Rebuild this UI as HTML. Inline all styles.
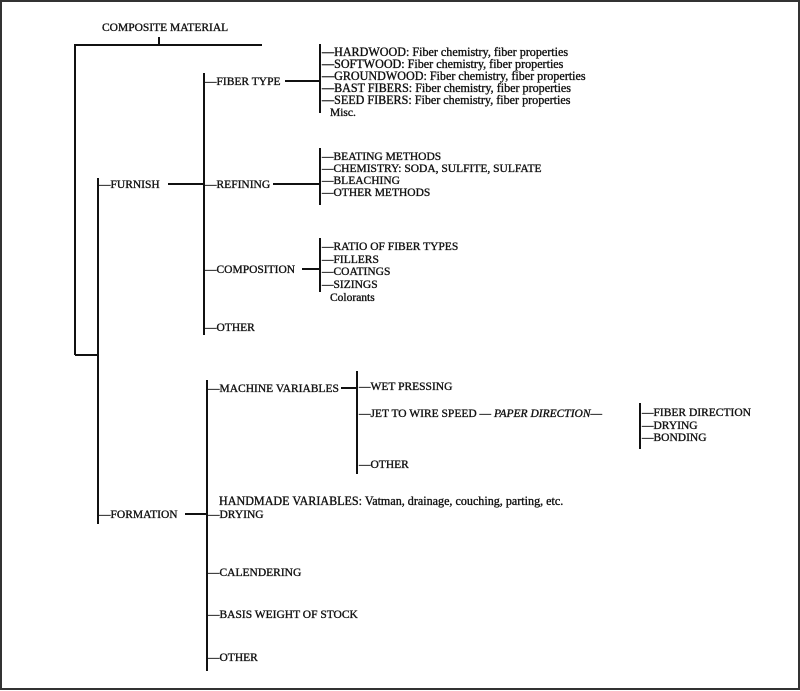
<!DOCTYPE html>
<html><head><meta charset="utf-8"><style>
html,body{margin:0;padding:0;background:#fff}
svg{display:block}
text{font-family:"Liberation Serif",serif;font-size:11.5px;fill:#111;stroke:#111;stroke-width:0.35px}
.w{font-size:12.1px}
</style></head><body>
<svg width="800" height="691" viewBox="0 0 800 691" xmlns="http://www.w3.org/2000/svg">
<rect x="1" y="1" width="798" height="688" fill="#fff" stroke="#333" stroke-width="2"/>
<g stroke="#111" stroke-width="2" fill="none">
<line x1="159" y1="37" x2="159" y2="45"/>
<line x1="74" y1="45" x2="262" y2="45"/>
<line x1="75" y1="45" x2="75" y2="355"/>
<line x1="75" y1="355" x2="98" y2="355"/>
<line x1="98" y1="178" x2="98" y2="524"/>
<line x1="168" y1="184" x2="204" y2="184"/>
<line x1="204" y1="73" x2="204" y2="335"/>
<line x1="285" y1="81" x2="320" y2="81"/>
<line x1="320" y1="44" x2="320" y2="113"/>
<line x1="273" y1="184" x2="320" y2="184"/>
<line x1="320" y1="148" x2="320" y2="205"/>
<line x1="302" y1="269" x2="320" y2="269"/>
<line x1="320" y1="238" x2="320" y2="292"/>
<line x1="185" y1="514" x2="207" y2="514"/>
<line x1="207" y1="380" x2="207" y2="671"/>
<line x1="341" y1="388" x2="357" y2="388"/>
<line x1="357" y1="371" x2="357" y2="474"/>
<line x1="640" y1="403" x2="640" y2="449"/>
</g>
<text x="102" y="31">COMPOSITE MATERIAL</text>
<text x="99" y="188">—FURNISH</text>
<text x="99" y="518">—FORMATION</text>
<text x="205" y="85">—FIBER TYPE</text>
<text x="205" y="188">—REFINING</text>
<text x="205" y="273">—COMPOSITION</text>
<text x="205" y="331">—OTHER</text>
<text class="w" x="322" y="56">—HARDWOOD: Fiber chemistry, fiber properties</text>
<text class="w" x="322" y="68">—SOFTWOOD: Fiber chemistry, fiber properties</text>
<text class="w" x="322" y="80">—GROUNDWOOD: Fiber chemistry, fiber properties</text>
<text class="w" x="322" y="92">—BAST FIBERS: Fiber chemistry, fiber properties</text>
<text class="w" x="322" y="104">—SEED FIBERS: Fiber chemistry, fiber properties</text>
<text x="330" y="116">Misc.</text>
<text x="322" y="160">—BEATING METHODS</text>
<text x="322" y="172">—CHEMISTRY: SODA, SULFITE, SULFATE</text>
<text x="322" y="184">—BLEACHING</text>
<text x="322" y="196">—OTHER METHODS</text>
<text x="322" y="250">—RATIO OF FIBER TYPES</text>
<text x="322" y="263">—FILLERS</text>
<text x="322" y="275">—COATINGS</text>
<text x="322" y="288">—SIZINGS</text>
<text x="330" y="301">Colorants</text>
<text x="208" y="392">—MACHINE VARIABLES</text>
<text x="359" y="390">—WET PRESSING</text>
<text x="359" y="417">—JET TO WIRE SPEED — <tspan font-style="italic">PAPER DIRECTION</tspan>—</text>
<text x="359" y="468">—OTHER</text>
<text x="642" y="416">—FIBER DIRECTION</text>
<text x="642" y="429">—DRYING</text>
<text x="642" y="441">—BONDING</text>
<text class="w" x="219" y="505">HANDMADE VARIABLES: Vatman, drainage, couching, parting, etc.</text>
<text x="208" y="518">—DRYING</text>
<text x="208" y="576">—CALENDERING</text>
<text x="208" y="618">—BASIS WEIGHT OF STOCK</text>
<text x="208" y="661">—OTHER</text>
</svg>
</body></html>
